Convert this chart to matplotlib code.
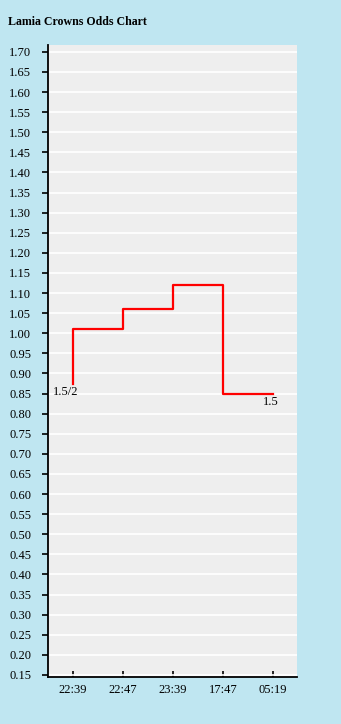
import matplotlib
matplotlib.use("Agg")
import matplotlib.pyplot as plt
import numpy as np

# chart data
times = ["22:39", "22:47", "23:39", "17:47", "05:19"]
step_x = [0, 0, 1, 2, 3, 4]
step_y = [0.875, 1.01, 1.06, 1.12, 0.85, 0.85]
first_label = "1.5/2"
last_label = "1.5"
yticks = [round(0.15 + 0.05 * i, 2) for i in range(32)]

plt.rcParams['font.family'] = ['Liberation Serif', 'DejaVu Serif']

fig = plt.figure(figsize=(3.41, 7.24), dpi=100)
fig.patch.set_facecolor('#bfe6f1')
ax = fig.add_axes([48 / 341, 1 - 677 / 724, 249 / 341, 632 / 724])
ax.set_facecolor('#eeeeee')

ax.plot(step_x, step_y, drawstyle='steps-post', color='red', lw=1.6, zorder=3)

ax.text(step_x[0] - 0.14, step_y[0] - 0.007, first_label, ha='center', va='top',
        fontsize=9, zorder=4)
ax.text(step_x[-1] - 0.05, step_y[-1] - 0.007, last_label, ha='center', va='top',
        fontsize=9, zorder=4)

ax.set_xlim(-0.5, 4.48)
ax.set_ylim(0.145, 1.717)
ax.set_xticks(range(len(times)))
ax.set_xticklabels(times)
ax.set_yticks(yticks)
ax.set_yticklabels([f"{v:.2f}" for v in yticks])

ax.yaxis.grid(True, color='white', lw=1.2)
ax.set_axisbelow(True)

for s in ['top', 'right']:
    ax.spines[s].set_visible(False)
for s in ['left', 'bottom']:
    ax.spines[s].set_color('black')
    ax.spines[s].set_linewidth(1.3)

ax.tick_params(axis='y', direction='out', length=4, width=1.2, pad=8, labelsize=9)
ax.tick_params(axis='x', direction='in', length=4, width=1.2, pad=5, labelsize=9)

fig.text(8 / 341, 1 - 22 / 724, "Lamia Crowns Odds Chart", fontsize=8.6,
         fontweight='bold', ha='left', va='center')

fig.savefig('out.png', dpi=100, facecolor=fig.get_facecolor())
